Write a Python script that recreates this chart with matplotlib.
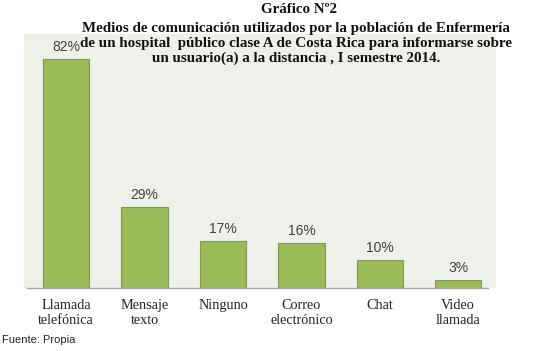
import matplotlib
matplotlib.use("Agg")
import matplotlib.pyplot as plt

categories = ["Llamada\ntelefónica", "Mensaje\ntexto", "Ninguno", "Correo\nelectrónico", "Chat", "Video\nllamada"]
values = [82, 29, 17, 16, 10, 3]
labels = ["82%", "29%", "17%", "16%", "10%", "3%"]

title_lines = ["Gráfico Nº2",
               "Medios de comunicación utilizados por la población de Enfermería",
               "de un hospital  público clase A de Costa Rica para informarse sobre",
               "un usuario(a) a la distancia , I semestre 2014."]

W, H = 533, 351
fig = plt.figure(figsize=(W / 100, H / 100), dpi=100)
fig.patch.set_facecolor("white")

# plot-area background
bg = fig.add_axes([24 / W, 1 - 288 / H, (496 - 24) / W, (288 - 34) / H], zorder=0)
bg.set_facecolor("#eef0ea")
bg.set_xticks([]); bg.set_yticks([])
for s in bg.spines.values():
    s.set_visible(False)

ax = fig.add_axes([27 / W, 1 - 288 / H, (488 - 27) / W, (288 - 34) / H], zorder=1)
ax.set_facecolor("none")
x = list(range(len(categories)))
ax.bar(x, values, width=0.59, color="#9bbb59", edgecolor="#7f9a4a", linewidth=0.8, zorder=2)
for xi, v, lab in zip(x, values, labels):
    ax.annotate(lab, (xi, v), xytext=(0, 3.5), textcoords="offset points",
                ha="center", va="bottom", fontsize=10, color="#404040",
                family="Liberation Sans")
ax.set_xlim(-0.5, 5.38)
ax.set_ylim(0, 91)
ax.set_yticks([])
ax.set_xticks(x)
ax.set_xticklabels(categories, family="Liberation Serif", fontsize=10.3, color="#222222",
                   linespacing=1.15)
ax.tick_params(axis="x", length=0, pad=8)
for s in ["top", "right", "left"]:
    ax.spines[s].set_visible(False)
ax.spines["bottom"].set_color("#a6a6a6")
ax.spines["bottom"].set_linewidth(1.0)

baselines = [13, 32, 47, 62]
centers = [299, 296, 296, 296]
for line, yb, xc in zip(title_lines, baselines, centers):
    fig.text(xc / W, 1 - yb / H, line, ha="center", va="baseline", family="Liberation Serif",
             fontweight="bold", fontsize=10.8, color="#111111", zorder=3)

fig.text(2 / W, 1 - 340 / H, "Fuente: Propia", ha="left", va="center",
         family="Liberation Sans", fontsize=8, color="#222222")

fig.savefig("out.png", dpi=100, facecolor="white")
